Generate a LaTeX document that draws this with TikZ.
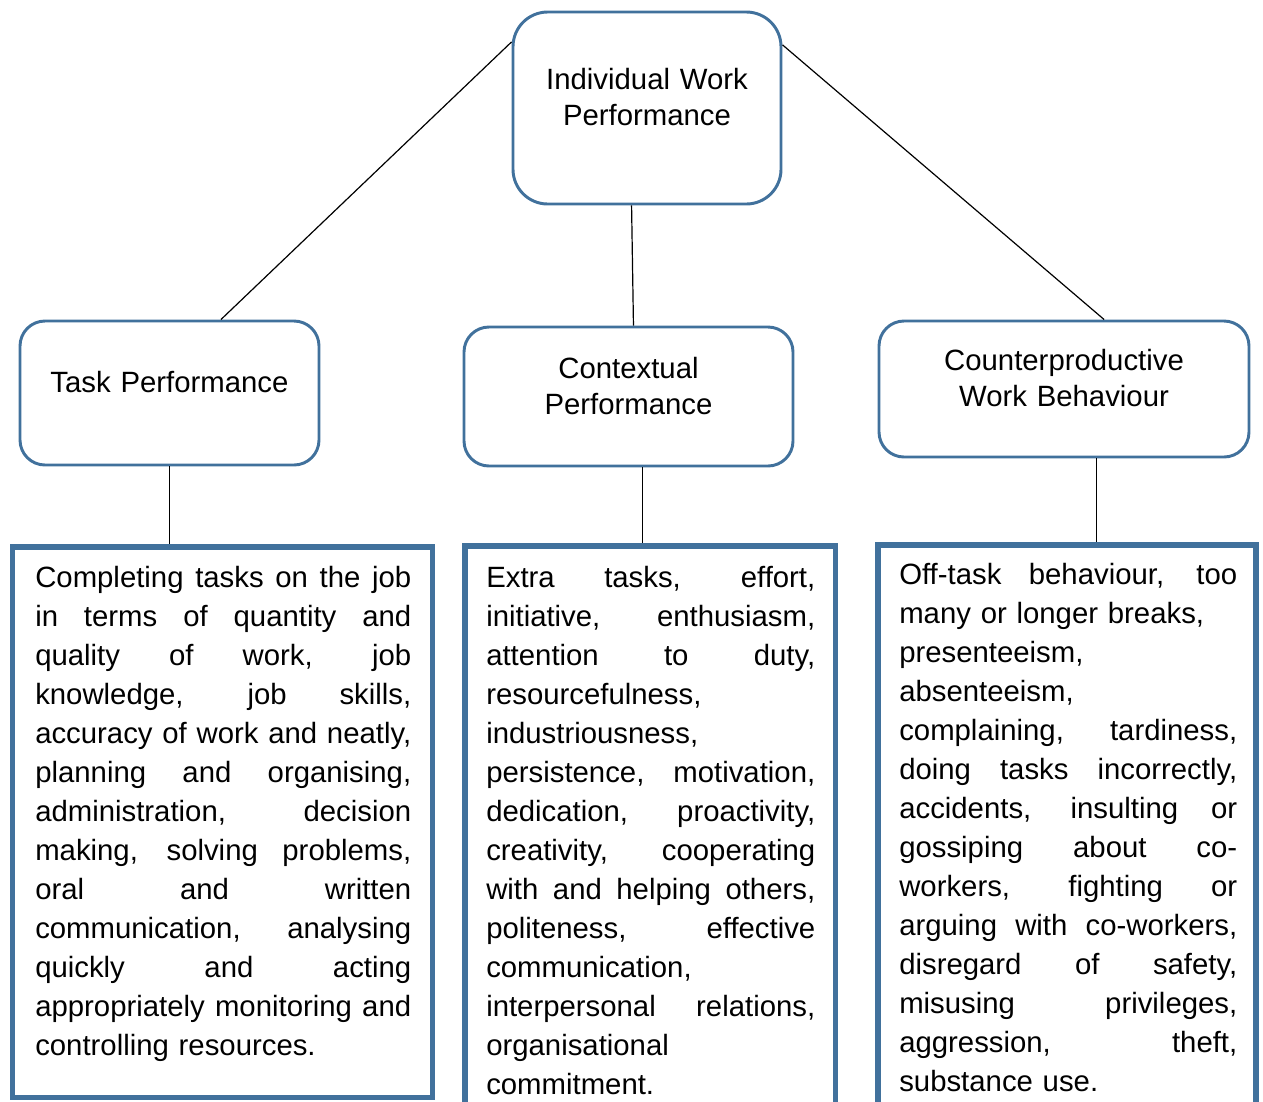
\documentclass[tikz,border=0pt]{standalone}
\usepackage{fontspec}
\setmainfont{Liberation Sans}
\definecolor{boxblue}{RGB}{65,113,156}
% a justified line (interword spaces stretched to the width \jw) and a ragged one
\newlength\jw
\newcommand\jline[1]{\hbox to\jw{\spaceskip=\fontdimen2\font plus 1fil\relax #1}}
\newcommand\rline[1]{\hbox{#1}}
\begin{document}
\begin{tikzpicture}[x=0.75pt,y=-0.75pt,
  roundbox/.style={draw=boxblue, line width=2.2pt, rounded corners=18.75pt, fill=white, inner sep=0pt},
  textbox/.style={draw=boxblue, line width=4pt, inner sep=0pt},
  heading/.style={font=\fontsize{22}{27}\selectfont, align=center, text width=260pt, inner sep=0pt, anchor=base},
  body/.style={font=\fontsize{22}{29.25}\selectfont, inner sep=0pt, anchor=base west},
  link/.style={draw=black, line width=0.9pt}]
\useasboundingbox (0,0) rectangle (1263,1101);
\clip (0,0) rectangle (1263,1101);

% top level
\node[roundbox, rounded corners=26pt, minimum width=201pt, minimum height=144pt] (iwp) at (647,108) {};
\node[heading] (iwpt) at (647,89) {Individual Work\\Performance};

% three dimensions
\node[roundbox, minimum width=224.25pt, minimum height=108pt] (task) at (169.5,393) {};
\node[heading] (taskt) at (169.5,392) {Task Performance};
\node[roundbox, minimum width=246.75pt, minimum height=104.25pt] (ctx) at (628.5,396.5) {};
\node[heading] (ctxt) at (628.5,378) {Contextual\\Performance};
\node[roundbox, minimum width=277.5pt, minimum height=102pt] (cwb) at (1064,389) {};
\node[heading] (cwbt) at (1064,370) {Counterproductive\\Work Behaviour};

% descriptions
\node[textbox, minimum width=315pt, minimum height=412.9pt] (b1) at (222.5,822.25) {};
\node[textbox, minimum width=277.9pt, minimum height=453pt] (b2) at (650.25,848) {};
\node[textbox, minimum width=283.5pt, minimum height=453.75pt] (b3) at (1067,847.5) {};

\setlength\jw{282pt}
\node[body, text width=282pt] (b1t) at (35,587) {%
\jline{Completing tasks on the job}
\jline{in terms of quantity and}
\jline{quality of work, job}
\jline{knowledge, job skills,}
\jline{accuracy of work and neatly,}
\jline{planning and organising,}
\jline{administration, decision}
\jline{making, solving problems,}
\jline{oral and written}
\jline{communication, analysing}
\jline{quickly and acting}
\jline{appropriately monitoring and}
\rline{controlling resources.}};

\setlength\jw{246.75pt}
\node[body, text width=246.75pt] (b2t) at (486,587) {%
\jline{Extra tasks, effort,}
\jline{initiative, enthusiasm,}
\jline{attention to duty,}
\rline{resourcefulness,}
\rline{industriousness,}
\jline{persistence, motivation,}
\jline{dedication, proactivity,}
\jline{creativity, cooperating}
\jline{with and helping others,}
\jline{politeness, effective}
\rline{communication,}
\jline{interpersonal relations,}
\rline{organisational}
\rline{commitment.}};

\setlength\jw{253.5pt}
\node[body, text width=253.5pt] (b3t) at (899,584) {%
\jline{Off-task behaviour, too}
\rline{many or longer breaks,}
\rline{presenteeism,}
\rline{absenteeism,}
\jline{complaining, tardiness,}
\jline{doing tasks incorrectly,}
\jline{accidents, insulting or}
\jline{gossiping about co-}
\jline{workers, fighting or}
\jline{arguing with co-workers,}
\jline{disregard of safety,}
\jline{misusing privileges,}
\jline{aggression, theft,}
\rline{substance use.}};

% connectors
\draw[link] (iwp.154.8) -- (task.55);
\draw[link] (iwp.261.1) -- (ctx.86.3);
\draw[link] (iwp.25.2) -- (cwb.60.3);
\draw[link] (task.south) -- (task.south |- b1.north);
\draw[link] (ctx.281) -- (ctx.281 |- b2.north);
\draw[link] (cwb.295.2) -- (cwb.295.2 |- b3.north);
\end{tikzpicture}
\end{document}
